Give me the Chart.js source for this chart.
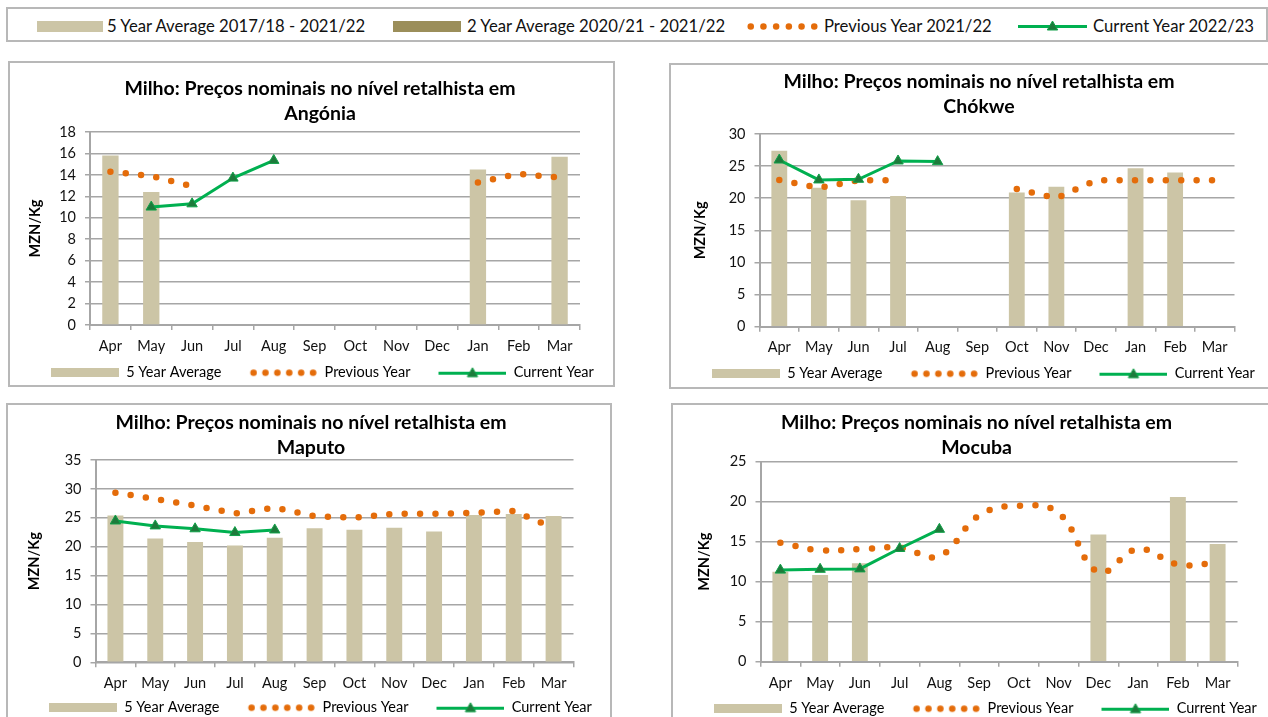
<!DOCTYPE html>
<html>
<head>
<meta charset="utf-8">
<script src="https://cdn.jsdelivr.net/npm/chart.js@4.4.1/dist/chart.umd.min.js"></script>
<style>
  body { margin: 0; width: 1268px; height: 717px; overflow: hidden; background: #fff; position: relative; font-family: Lato, "Liberation Sans", sans-serif; }
  .box { position: absolute; border: 2px solid #b8b8b8; box-sizing: border-box; }
  canvas { position: absolute; }
  .lg { position: absolute; top: 16px; font-size: 16.7px; line-height: 20px; color: #111; white-space: nowrap; }
</style>
</head>
<body>

<!-- top legend -->
<div class="box" style="left:6px;top:7px;width:1262px;height:35px"></div>
<canvas id="lgAvg5"></canvas><span class="lg" style="left:107px">5 Year Average 2017/18 - 2021/22</span>
<canvas id="lgAvg2"></canvas><span class="lg" style="left:467px">2 Year Average 2020/21 - 2021/22</span>
<canvas id="lgPrev"></canvas><span class="lg" style="left:824px">Previous Year 2021/22</span>
<canvas id="lgCurr"></canvas><span class="lg" style="left:1093px">Current Year 2022/23</span>

<!-- panel frames -->
<div class="box" style="left:8px;top:61px;width:607px;height:326px"></div>
<div class="box" style="left:669px;top:63px;width:640px;height:326px"></div>
<div class="box" style="left:6px;top:403px;width:606px;height:400px"></div>
<div class="box" style="left:671px;top:403px;width:640px;height:400px"></div>

<canvas id="cAngonia"></canvas>
<canvas id="cChokwe"></canvas>
<canvas id="cMaputo"></canvas>
<canvas id="cMocuba"></canvas>

<script>
// ---- data (MZN/Kg, Apr..Mar) ----
const months = ["Apr", "May", "Jun", "Jul", "Aug", "Sep", "Oct", "Nov", "Dec", "Jan", "Feb", "Mar"];

const avgAngonia  = [15.8, 12.4, null, null, null, null, null, null, null, 14.5, null, 15.7];
const prevAngonia = [14.3, 13.9, 12.95, null, null, null, null, null, null, 13.3, 14.1, 13.75];
const currAngonia = [null, 11.0, 11.3, 13.7, 15.35, null, null, null, null, null, null, null];

const avgChokwe  = [27.4, 21.65, 19.7, 20.35, null, null, 20.9, 21.8, null, 24.65, 24.0, null];
const prevChokwe = [22.85, 21.6, 22.8, 22.8, null, null, 21.45, 20.0, 22.8, 22.8, 22.8, 22.8];
const currChokwe = [25.95, 22.85, 22.95, 25.8, 25.7, null, null, null, null, null, null, null];

const avgMaputo  = [25.4, 21.4, 20.8, 20.2, 21.55, 23.2, 22.95, 23.3, 22.65, 25.5, 25.65, 25.3];
const prevMaputo = [29.35, 28.25, 27.1, 25.75, 26.75, 25.3, 25.0, 25.7, 25.7, 25.85, 26.2, 23.2];
const currMaputo = [24.45, 23.6, 23.1, 22.45, 22.9, null, null, null, null, null, null, null];

const avgMocuba  = [11.25, 10.85, 12.3, null, null, null, null, null, 15.9, null, 20.6, 14.7];
const prevMocuba = [14.87, 13.93, 14.07, 14.25, 13.2, 18.3, 19.5, 18.6, 11.2, 14.1, 12.15, 12.35];
const currMocuba = [11.45, 11.55, 11.6, 14.15, 16.55, null, null, null, null, null, null, null];

const titleLine = "Milho: Preços nominais no nível retalhista em";
const legendNames = ["5 Year Average", "Previous Year", "Current Year"];

// ---- styles ----
const FONT = "Lato, 'Liberation Sans', sans-serif";
const COL_AVG5 = "#ccc5a6";
const COL_AVG2 = "#9b8e5a";
const COL_PREV = "#e46c0a";
const COL_CURR = "#00b050";
const COL_MARK = "#1d7a3b";
const COL_GRID = "#a6a6a6";

Chart.defaults.font.family = FONT;

/* =========================
   LEGEND ICONS
========================= */

function newCanvas(w, h, el) {
  const c = el || document.createElement("canvas");
  c.width = w;
  c.height = h;
  return c;
}

// lead = blank space left of the icon (used as gap between legend items)
function barIcon(w, h, color, lead = 0, el) {
  const c = newCanvas(w + lead, h, el);
  const g = c.getContext("2d");
  g.fillStyle = color;
  g.fillRect(lead, 0, w, h);
  return c;
}

function dotsIcon(w, n, d, lead = 0, el) {
  const c = newCanvas(w + lead, Math.ceil(d) + 2, el);
  const g = c.getContext("2d");
  g.fillStyle = COL_PREV;
  const step = (w - d - 1) / (n - 1);
  for (let i = 0; i < n; i++) {
    g.beginPath();
    g.arc(lead + d / 2 + 0.5 + i * step, c.height / 2, d / 2, 0, Math.PI * 2);
    g.fill();
  }
  return c;
}

function triangle(g, x, y, r) {
  g.beginPath();
  let a = 0;
  g.moveTo(x + Math.sin(a) * r, y - Math.cos(a) * r);
  a += (2 * Math.PI) / 3;
  g.lineTo(x + Math.sin(a) * r, y - Math.cos(a) * r);
  a += (2 * Math.PI) / 3;
  g.lineTo(x + Math.sin(a) * r, y - Math.cos(a) * r);
  g.closePath();
  g.fillStyle = COL_MARK;
  g.fill();
  g.lineWidth = 1;
  g.strokeStyle = "#10a048";
  g.stroke();
}

function lineIcon(w, lead = 0, el) {
  const c = newCanvas(w + lead, 16, el);
  const g = c.getContext("2d");
  g.strokeStyle = COL_CURR;
  g.lineWidth = 3;
  g.beginPath();
  g.moveTo(lead, 8.5);
  g.lineTo(lead + w, 8.5);
  g.stroke();
  triangle(g, lead + w / 2, 9, 6);
  return c;
}

function place(el, x, cy) {
  el.style.left = x + "px";
  el.style.top = Math.round(cy - el.height / 2) + "px";
}

// top legend
place(barIcon(66, 11, COL_AVG5, 0, document.getElementById("lgAvg5")), 37, 26);
place(barIcon(68, 11, COL_AVG2, 0, document.getElementById("lgAvg2")), 393, 26);
place(dotsIcon(71, 6, 6.5, 0, document.getElementById("lgPrev")), 747, 26);
place(lineIcon(69, 0, document.getElementById("lgCurr")), 1018, 26);

// panel legend: small label padding, the item gap is carried by the icon's blank lead
const LEG_PAD = 3;
const LEG_LEAD = 25;
const LEG_ICON_W = 68;
const panelIcons = [
  barIcon(LEG_ICON_W, 9, COL_AVG5, LEG_LEAD),
  dotsIcon(LEG_ICON_W - 1, 6, 6.5, LEG_LEAD),
  lineIcon(LEG_ICON_W, LEG_LEAD),
];

/* =========================
   PANELS
========================= */

const panels = [
  { id: "cAngonia", city: "Angónia", avg: avgAngonia, prev: prevAngonia, curr: currAngonia, max: 18, step: 2, tension: 0,
    top: 62, legendX: 51, titleX: 320, plotL: 90, plotR: 580, plotT: 132, plotB: 325,
    titleY: 88.3, legendY: 372.3, xLabelY: 346.5, yTitleX: 35 },
  { id: "cChokwe", city: "Chókwe", avg: avgChokwe, prev: prevChokwe, curr: currChokwe, max: 30, step: 5, tension: 0,
    top: 64, legendX: 711.5, titleX: 978.5, plotL: 759, plotR: 1234, plotT: 134, plotB: 326.7,
    titleY: 81.7, legendY: 373.3, xLabelY: 347.3, yTitleX: 700 },
  { id: "cMaputo", city: "Maputo", avg: avgMaputo, prev: prevMaputo, curr: currMaputo, max: 35, step: 5, tension: 0,
    top: 404, legendX: 49, titleX: 311, plotL: 95.5, plotR: 573.5, plotT: 460, plotB: 662.3,
    titleY: 422.7, legendY: 707.3, xLabelY: 683.3, yTitleX: 34.7 },
  { id: "cMocuba", city: "Mocuba", avg: avgMocuba, prev: prevMocuba, curr: currMocuba, max: 25, step: 5, tension: 0.4,
    top: 404, legendX: 713.5, titleX: 976, plotL: 760, plotR: 1237, plotT: 461.7, plotB: 661.7,
    titleY: 422.7, legendY: 708.3, xLabelY: 683.3, yTitleX: 703.8 },
];

function buildPanel(p) {
  const canvas = document.getElementById(p.id);
  const legendFont = 14.5;
  const tickFont = 14.5;
  const tickLen = 5;
  const yTitleFont = 14.5;

  // canvas starts where the legend row starts, and is centred on the title
  const canvasL = p.legendX - LEG_PAD - LEG_LEAD;
  const canvasR = 2 * p.titleX - canvasL;
  const cw = Math.round(canvasR - canvasL);
  const ch = Math.round(p.legendY + 10 + legendFont / 2 - p.top);
  canvas.width = cw;
  canvas.height = ch;
  canvas.style.left = canvasL + "px";
  canvas.style.top = p.top + "px";

  const titlePadTop = p.titleY - p.top - 12.5;
  const titlePadBottom = p.plotT - p.top - titlePadTop - 50;
  const legendH = legendFont + LEG_PAD + 10;
  const xScaleH = ch - legendH - (p.plotB - p.top);
  const xTickPad = p.xLabelY - p.plotB - tickLen - (tickFont * 1.2) / 2;
  const yScaleW = p.plotL - canvasL;
  const yRightW = canvasL + cw - p.plotR;
  const yTitlePad = p.yTitleX - canvasL - (yTitleFont * 1.2) / 2;

  return new Chart(canvas.getContext("2d"), {
    type: "bar",
    data: {
      labels: months,
      datasets: [
        {
          type: "bar",
          label: legendNames[0],
          data: p.avg,
          yAxisID: "y",
          backgroundColor: COL_AVG5,
          barPercentage: 0.4,
          categoryPercentage: 1,
          order: 3,
        },
        {
          type: "line",
          label: legendNames[1],
          data: p.prev,
          yAxisID: "y",
          borderColor: COL_PREV,
          borderWidth: 6.5,
          borderDash: [0, 15.4],
          borderCapStyle: "round",
          pointRadius: 0,
          tension: p.tension,
          spanGaps: false,
          order: 2,
        },
        {
          type: "line",
          label: legendNames[2],
          data: p.curr,
          yAxisID: "y",
          borderColor: COL_CURR,
          borderWidth: 3,
          pointStyle: "triangle",
          pointRadius: 6,
          pointBackgroundColor: COL_MARK,
          pointBorderColor: "#10a048",
          pointBorderWidth: 1,
          order: 1,
        },
      ],
    },
    options: {
      responsive: false,
      animation: false,
      devicePixelRatio: 1,
      events: [],
      layout: { padding: 0 },
      plugins: {
        tooltip: { enabled: false },
        title: {
          display: true,
          text: [titleLine, p.city],
          color: "#000",
          font: { family: FONT, size: 19.5, weight: "bold", lineHeight: 25 / 19.5 },
          padding: { top: titlePadTop, bottom: titlePadBottom },
        },
        legend: {
          display: true,
          position: "bottom",
          align: "start",
          labels: {
            usePointStyle: true,
            pointStyleWidth: LEG_ICON_W + LEG_LEAD,
            padding: LEG_PAD,
            color: "#111",
            font: { family: FONT, size: legendFont },
            generateLabels: () =>
              legendNames.map((text, i) => ({
                text,
                pointStyle: panelIcons[i],
                fillStyle: "rgba(0,0,0,0)",
                strokeStyle: "rgba(0,0,0,0)",
                lineWidth: 0,
                hidden: false,
                datasetIndex: i,
              })),
          },
        },
      },
      scales: {
        x: {
          offset: true,
          afterFit: (s) => { s.height = xScaleH; },
          grid: { display: true, offset: true, drawOnChartArea: false, drawTicks: true, tickLength: tickLen, color: COL_GRID, lineWidth: 1.5 },
          border: { display: true, color: COL_GRID, width: 2 },
          ticks: { color: "#111", font: { family: FONT, size: tickFont }, padding: xTickPad, autoSkip: false, maxRotation: 0 },
        },
        y: {
          position: "left",
          min: 0,
          max: p.max,
          afterFit: (s) => { s.width = yScaleW; },
          grid: { color: COL_GRID, lineWidth: 1.5, drawTicks: true, tickLength: tickLen },
          border: { display: true, color: COL_GRID, width: 2 },
          ticks: { stepSize: p.step, autoSkip: false, color: "#111", font: { family: FONT, size: tickFont }, padding: 9 },
          title: {
            display: true,
            text: "MZN/Kg",
            color: "#000",
            font: { family: FONT, size: yTitleFont, weight: "bold" },
            padding: { top: yTitlePad, bottom: 0 },
          },
        },
        // empty right-hand spacer so the legend and title can span the whole canvas
        yR: {
          type: "linear",
          position: "right",
          afterFit: (s) => { s.width = yRightW; },
          grid: { display: false },
          border: { display: false },
          ticks: { display: false },
        },
      },
    },
  });
}

panels.forEach(buildPanel);
</script>
</body>
</html>
